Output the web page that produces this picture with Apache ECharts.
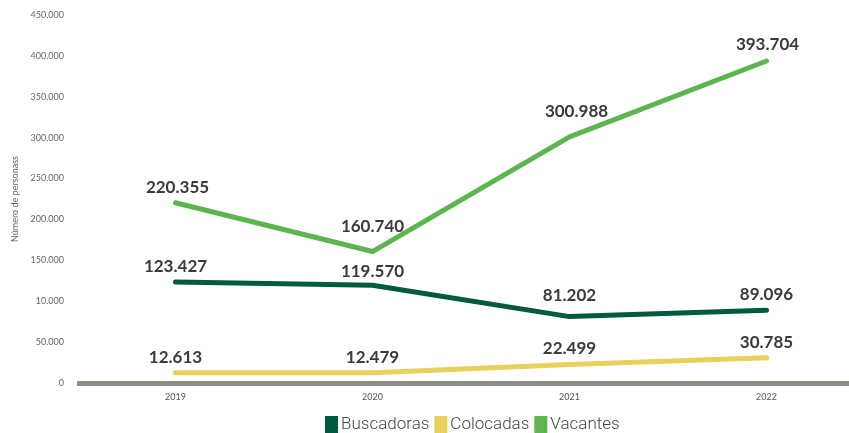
<!DOCTYPE html>
<html>
<head>
<meta charset="utf-8">
<script src="https://cdn.jsdelivr.net/npm/echarts@6/dist/echarts.min.js"></script>
<style>html,body{margin:0;padding:0;background:#fff}#c{width:849px;height:433px}</style>
</head>
<body>
<div id="c"></div>
<script>
var years = ['2019', '2020', '2021', '2022'];
var buscadoras = [123427, 119570, 81202, 89096];
var colocadas = [12613, 12479, 22499, 30785];
var vacantes = [220355, 160740, 300988, 393704];
var yTickLabels = ['0', '50.000', '10.000', '150.000', '200.000', '250.000', '300.000', '350.000', '400.000', '450.000'];

// small label nudges [dx, dy] seen in the reference
var buscadorasNudge = [[0, 0], [0, 2], [0, -6], [0, 0]];
var colocadasNudge = [[0, 0], [0, 0], [0, -1], [0, 0]];
var vacantesNudge = [[2, 0], [0, -9], [7, -10], [1, -1]];

function fmt(v) {
  return String(v).replace(/\B(?=(\d{3})+(?!\d))/g, '.');
}

var chart = echarts.init(document.getElementById('c'));
function mk(name, values, nudges, color) {
  return {
    name: name, type: 'line', showSymbol: true, symbol: 'circle', symbolSize: 0.1,
    data: values.map(function (v, i) {
      return { value: v, label: { offset: nudges[i] } };
    }),
    lineStyle: { width: 5, color: color, cap: 'round', join: 'round' },
    itemStyle: { color: color },
    label: {
      show: true, position: 'top', distance: 7,
      fontFamily: 'Lato', fontWeight: 'bold', fontSize: 17, color: '#3a3a3a',
      formatter: function (p) { return fmt(p.value); }
    },
    z: 3
  };
}
chart.setOption({
  animation: false,
  grid: { left: 77, right: -16, top: 15, bottom: 50, outerBoundsMode: 'none', containLabel: false },
  legend: {
    top: 411, left: 320,
    itemWidth: 13, itemHeight: 18, itemGap: 5,
    icon: 'rect',
    textStyle: { fontFamily: 'Roboto', fontWeight: 300, fontSize: 17, color: '#444', padding: [0, 0, 0, -2] },
    data: ['Buscadoras', 'Colocadas', 'Vacantes']
  },
  xAxis: {
    type: 'category', data: years, boundaryGap: true,
    axisLine: { show: true, lineStyle: { color: '#8f8f8a', width: 5, cap: 'butt' } },
    axisTick: { show: false },
    axisLabel: { fontFamily: 'Lato', fontSize: 9, color: '#555', margin: 10 }
  },
  yAxis: {
    type: 'value', min: 0, max: 450000, interval: 50000,
    name: 'Número de personass', nameLocation: 'middle', nameGap: 55, nameRotate: 90,
    nameTextStyle: { fontFamily: 'Lato', fontSize: 9, color: '#666' },
    axisLine: { show: false }, axisTick: { show: false },
    splitLine: { show: false },
    axisLabel: {
      fontFamily: 'Lato', fontSize: 9, color: '#666', margin: 13,
      formatter: function (v) { return yTickLabels[Math.round(v / 50000)]; }
    }
  },
  series: [
    mk('Buscadoras', buscadoras, buscadorasNudge, '#005a3f'),
    mk('Colocadas', colocadas, colocadasNudge, '#e8d05c'),
    mk('Vacantes', vacantes, vacantesNudge, '#5cb54f')
  ]
});
</script>
</body>
</html>
